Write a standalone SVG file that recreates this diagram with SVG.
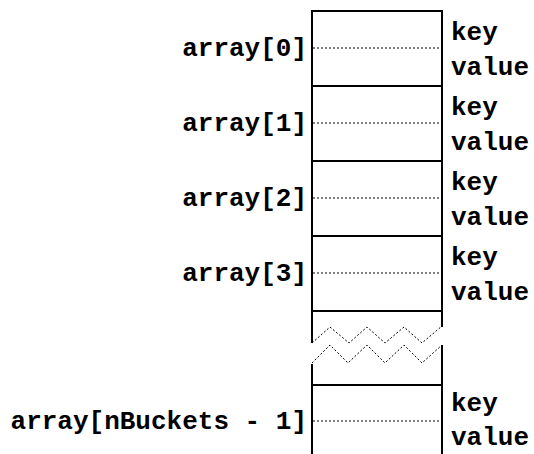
<svg xmlns="http://www.w3.org/2000/svg" width="534" height="454" viewBox="0 0 534 454">
<style>
.t{font-family:"Liberation Mono","Courier New",monospace;font-weight:bold;font-size:26px;fill:#000}
.l{text-anchor:end}
.s{stroke:#000;stroke-width:2;fill:none}
.d{stroke:#000;stroke-width:1;stroke-dasharray:2 2;fill:none}
</style>
<rect width="534" height="454" fill="#fff"/>
<g id="frame">
<line class="s" x1="312" y1="10" x2="312" y2="343"/>
<line class="s" x1="312" y1="364" x2="312" y2="454"/>
<line class="s" x1="442" y1="10" x2="442" y2="327"/>
<line class="s" x1="442" y1="345" x2="442" y2="454"/>
<line class="s" x1="311" y1="11" x2="443" y2="11"/>
</g>
<g id="bucket0">
<line class="d" x1="313" y1="48" x2="441" y2="48"/>
<line class="s" x1="311" y1="86" x2="443" y2="86"/>
<text class="t l" x="307" y="56">array[0]</text>
<text class="t" x="451" y="40">key</text>
<text class="t" x="451" y="75">value</text>
</g>
<g id="bucket1">
<line class="d" x1="313" y1="123" x2="441" y2="123"/>
<line class="s" x1="311" y1="161" x2="443" y2="161"/>
<text class="t l" x="307" y="131">array[1]</text>
<text class="t" x="451" y="115">key</text>
<text class="t" x="451" y="150">value</text>
</g>
<g id="bucket2">
<line class="d" x1="313" y1="198" x2="441" y2="198"/>
<line class="s" x1="311" y1="236" x2="443" y2="236"/>
<text class="t l" x="307" y="206">array[2]</text>
<text class="t" x="451" y="190">key</text>
<text class="t" x="451" y="225">value</text>
</g>
<g id="bucket3">
<line class="d" x1="313" y1="273" x2="441" y2="273"/>
<line class="s" x1="311" y1="311" x2="443" y2="311"/>
<text class="t l" x="307" y="281">array[3]</text>
<text class="t" x="451" y="265">key</text>
<text class="t" x="451" y="300">value</text>
</g>
<g id="break">
<polyline class="d" points="312,343 330,327 349,343 367,327 385,343 404,327 422,343 442,326"/>
<polyline class="d" points="312,363 330,345 348,363 367,345 385,363 404,345 422,363 442,345"/>
</g>
<g id="bucketN">
<line class="s" x1="311" y1="385" x2="443" y2="385"/>
<line class="d" x1="313" y1="421" x2="441" y2="421"/>
<text class="t l" x="307" y="429">array[nBuckets - 1]</text>
<text class="t" x="451" y="411">key</text>
<text class="t" x="451" y="445">value</text>
</g>
<g id="connectors"></g>
</svg>
